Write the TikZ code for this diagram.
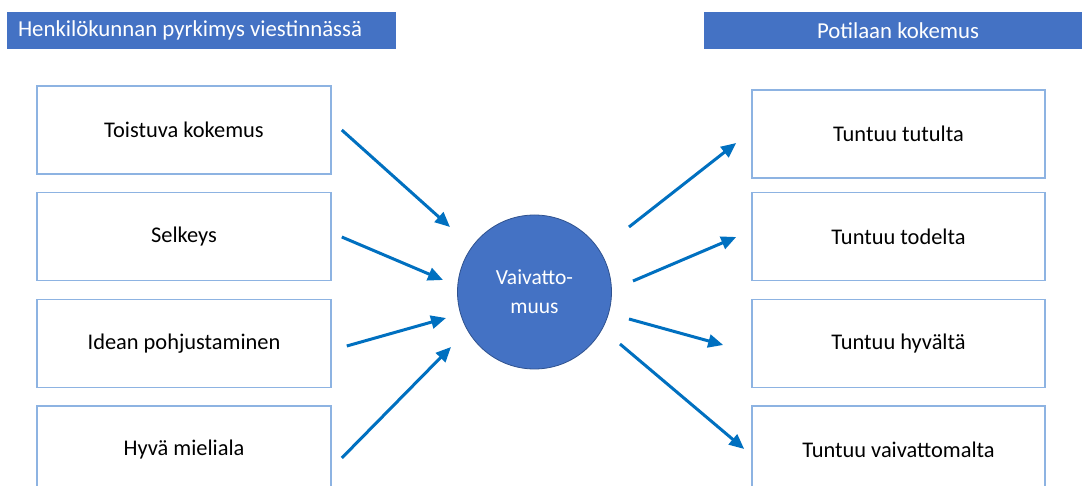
\documentclass[tikz,border=0pt]{standalone}
\usepackage{fontspec}
\setmainfont{Carlito}
\usetikzlibrary{arrows.meta,calc}
\definecolor{hdrblue}{HTML}{4472C4}
\definecolor{circedge}{HTML}{2F528F}
\definecolor{boxedge}{HTML}{8DB3E2}
\definecolor{arrblue}{HTML}{0070C0}
\begin{document}
\begin{tikzpicture}[x=1pt,y=-1pt,
  hdrtext/.style={text=white,font=\fontsize{22.8}{26}\selectfont,inner sep=0pt},
  hdr/.style={fill=hdrblue,draw=none,inner sep=0pt},
  itembox/.style={draw=boxedge,line width=1.6pt,fill=white,minimum width=294pt,minimum height=88pt,
    inner sep=0pt,font=\fontsize{22.4}{26}\selectfont,text=black},
  hub/.style={circle,fill=hdrblue,draw=circedge,line width=0.8pt,minimum size=154pt,inner sep=0pt,
    text=white,align=center,font=\fontsize{21.5}{29}\selectfont},
  arr/.style={draw=arrblue,line width=3pt,-{Triangle[length=15pt,width=13pt]}}]
\useasboundingbox (0,0) rectangle (1082,486);
\clip (0,0) rectangle (1082,486);
\fill[white] (0,0) rectangle (1082,486);

% column headings
\node[hdr,minimum width=389pt,minimum height=37pt] (hl) at (201.5,30.5) {};
\node[hdrtext,anchor=west] (hlt) at ($(hl.west)+(11,0)$) {Henkilökunnan pyrkimys viestinnässä};
\node[hdr,minimum width=380pt,minimum height=37pt] (hr) at (894,30.5) {};
\node[hdrtext] (hrt) at ($(hr.center)+(4,0)$) {Potilaan kokemus};

% left column
\node[itembox] (l1) at (184,130) {Toistuva kokemus};
\node[itembox] (l2) at (184,236.5) {Selkeys};
\node[itembox] (l3) at (184,343.5) {Idean pohjustaminen};
\node[itembox] (l4) at (184,450) {Hyvä mieliala};

% right column
\node[itembox,minimum width=293pt] (r1) at (898.5,134) {Tuntuu tutulta};
\node[itembox,minimum width=293pt] (r2) at (898.5,236.5) {Tuntuu todelta};
\node[itembox,minimum width=293pt] (r3) at (898.5,343.5) {Tuntuu hyvältä};
\node[itembox,minimum width=293pt] (r4) at (898.5,450) {Tuntuu vaivattomalta};

% centre
\node[hub] (c) at (534.5,292) {Vaivatto-\\muus};

% incoming arrows
\draw[arr] ($(l1.east)+(10,0)$) -- ($(c)+(-84.5,-65)$);
\draw[arr] ($(l2.east)+(10,0.5)$) -- ($(c)+(-91.5,-12)$);
\draw[arr] ($(l3.east)+(15,2.5)$) -- ($(c)+(-88.5,26)$);
\draw[arr] ($(l4.east)+(10,8)$) -- ($(c)+(-83.5,55)$);

% outgoing arrows
\draw[arr] ($(c)+(94.5,-65)$) -- ($(r1.west)+(-15,9)$);
\draw[arr] ($(c)+(98.5,-11)$) -- ($(r2.west)+(-15,0.5)$);
\draw[arr] ($(c)+(94.5,27)$) -- ($(r3.west)+(-28,1.5)$);
\draw[arr] ($(c)+(85.5,52)$) -- ($(r4.west)+(-7,-1)$);
\end{tikzpicture}
\end{document}
